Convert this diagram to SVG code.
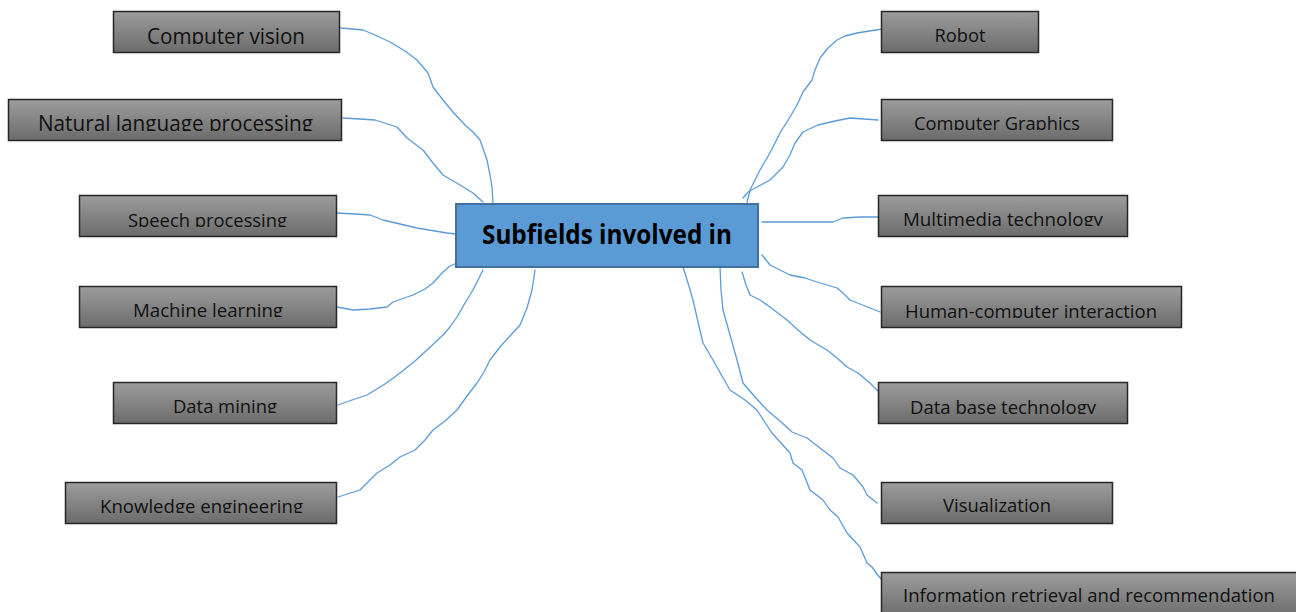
<svg xmlns="http://www.w3.org/2000/svg" width="1296" height="612" viewBox="0 0 1296 612">
<style>
.box{fill:url(#g);stroke:#262626;stroke-width:1.5}
.lbl{font-family:"Open Sans","Liberation Sans",sans-serif;font-size:19px;fill:#111;text-anchor:middle}
.big{font-size:21px}
.hub{fill:#5b9bd5;stroke:#41719c;stroke-width:2}
.hubt{font-family:"Open Sans","Liberation Sans",sans-serif;font-size:26px;font-weight:bold;fill:#000;text-anchor:middle}
.c{fill:none;stroke:#5b9bd5;stroke-width:1.3;stroke-linejoin:round;stroke-linecap:round}
</style>
<defs>
<linearGradient id="g" x1="0" y1="0" x2="0" y2="1">
<stop offset="0" stop-color="#9d9d9d"/>
<stop offset="1" stop-color="#6b6b6b"/>
</linearGradient>
<clipPath id="k1"><rect x="0" y="0" width="1296" height="44"/></clipPath>
<clipPath id="k2"><rect x="0" y="0" width="1296" height="131"/></clipPath>
<clipPath id="k3"><rect x="0" y="0" width="1296" height="227"/></clipPath>
<clipPath id="k4"><rect x="0" y="0" width="1296" height="317"/></clipPath>
<clipPath id="k5"><rect x="0" y="0" width="1296" height="413"/></clipPath>
<clipPath id="k6"><rect x="0" y="0" width="1296" height="513"/></clipPath>
<clipPath id="k8"><rect x="0" y="0" width="1296" height="130"/></clipPath>
<clipPath id="k9"><rect x="0" y="0" width="1296" height="226"/></clipPath>
<clipPath id="k10"><rect x="0" y="0" width="1296" height="318"/></clipPath>
<clipPath id="k11"><rect x="0" y="0" width="1296" height="414"/></clipPath>
</defs>
<rect width="1296" height="612" fill="#fff"/>

<g id="connectors">
<polyline class="c" points="341,28 363,30 375,35 390,42 405,51 417,60 428,73 433,87 443,100 453,112 465,125 473,132 480,140 487,160 490,175 492,187 493,203"/>
<polyline class="c" points="343,118 360,119 375,120 397,127 407,138 423,150 433,163 443,175 460,185 473,193 483,202"/>
<polyline class="c" points="337,213 355,214 370,215 383,220 400,224 417,228 447,233 456,234"/>
<polyline class="c" points="337,307 353,310 370,309 387,307 393,302 413,295 425,289 433,283 443,272 450,266 457,263"/>
<polyline class="c" points="338,405 352,400 367,395 385,384 400,373 415,361 427,350 443,335 450,327 457,317 465,303 473,290 478,280 483,270"/>
<polyline class="c" points="338,497 360,490 377,473 390,465 400,457 415,450 425,440 433,430 445,421 457,410 467,396 477,383 484,372 490,360 500,347 510,336 520,325 527,308 532,290 535,270"/>
<polyline class="c" points="882,29 857,33 845,36 837,40 828,48 820,58 815,70 812,80 803,92 797,105 790,117 780,133 773,147 767,158 760,170 755,180 750,190 747,203"/>
<polyline class="c" points="878,120 850,118 835,121 818,125 803,132 795,143 790,155 783,167 770,180 757,187 748,192 743,198"/>
<polyline class="c" points="762,222 800,222 833,222 843,218 860,217 878,217"/>
<polyline class="c" points="762,255 770,265 780,270 790,275 805,278 817,282 837,288 843,293 850,300 860,304 870,308 880,312"/>
<polyline class="c" points="742,272 746,285 750,295 760,300 770,307 787,320 798,330 810,340 827,350 837,358 847,367 858,373 870,383 875,388 880,393"/>
<polyline class="c" points="720,267 721,290 723,310 730,335 737,360 743,383 755,397 767,410 780,421 792,432 807,438 820,448 833,458 840,468 853,475 863,487 867,495 877,503"/>
<polyline class="c" points="683,267 688,283 693,300 698,322 703,343 713,360 722,376 730,390 745,400 757,410 764,421 772,433 781,443 790,453 793,463 802,470 810,490 823,500 830,510 838,517 847,533 860,547 867,563 872,567 877,574 882,580"/>
</g>

<g id="hub">
<rect class="hub" x="456" y="204" width="302" height="63"/>
<text class="hubt" x="607" y="244" textLength="250" lengthAdjust="spacingAndGlyphs">Subfields involved in</text>
</g>

<g id="n-computer-vision">
<rect class="box" x="113.5" y="11.5" width="226" height="41"/>
<text class="lbl big" x="226" y="43.5" textLength="158" lengthAdjust="spacingAndGlyphs" clip-path="url(#k1)">Computer vision</text>
</g>
<g id="n-nlp">
<rect class="box" x="8.5" y="99.5" width="333" height="41"/>
<text class="lbl big" x="175.5" y="130.5" textLength="275" lengthAdjust="spacingAndGlyphs" clip-path="url(#k2)">Natural language processing</text>
</g>
<g id="n-speech">
<rect class="box" x="79.5" y="195.5" width="257" height="41"/>
<text class="lbl" x="207.5" y="226.5" textLength="159" lengthAdjust="spacingAndGlyphs" clip-path="url(#k3)">Speech processing</text>
</g>
<g id="n-ml">
<rect class="box" x="79.5" y="286.5" width="257" height="41"/>
<text class="lbl" x="208" y="316.5" textLength="150" lengthAdjust="spacingAndGlyphs" clip-path="url(#k4)">Machine learning</text>
</g>
<g id="n-dm">
<rect class="box" x="113.5" y="382.5" width="223" height="41"/>
<text class="lbl" x="225" y="412.5" textLength="104" lengthAdjust="spacingAndGlyphs" clip-path="url(#k5)">Data mining</text>
</g>
<g id="n-ke">
<rect class="box" x="65.5" y="482.5" width="271" height="41"/>
<text class="lbl" x="201.5" y="512.5" textLength="203" lengthAdjust="spacingAndGlyphs" clip-path="url(#k6)">Knowledge engineering</text>
</g>

<g id="n-robot">
<rect class="box" x="881.5" y="11.5" width="157" height="41"/>
<text class="lbl" x="960" y="41.5" textLength="51" lengthAdjust="spacingAndGlyphs">Robot</text>
</g>
<g id="n-cg">
<rect class="box" x="881.5" y="99.5" width="231" height="41"/>
<text class="lbl" x="997" y="129.5" textLength="166" lengthAdjust="spacingAndGlyphs" clip-path="url(#k8)">Computer Graphics</text>
</g>
<g id="n-mm">
<rect class="box" x="878.5" y="195.5" width="249" height="41"/>
<text class="lbl" x="1003" y="225.5" textLength="200" lengthAdjust="spacingAndGlyphs" clip-path="url(#k9)">Multimedia technology</text>
</g>
<g id="n-hci">
<rect class="box" x="881.5" y="286.5" width="300" height="41"/>
<text class="lbl" x="1031" y="317.5" textLength="252" lengthAdjust="spacingAndGlyphs" clip-path="url(#k10)">Human-computer interaction</text>
</g>
<g id="n-db">
<rect class="box" x="878.5" y="382.5" width="249" height="41"/>
<text class="lbl" x="1003" y="413.5" textLength="186" lengthAdjust="spacingAndGlyphs" clip-path="url(#k11)">Data base technology</text>
</g>
<g id="n-vis">
<rect class="box" x="881.5" y="482.5" width="231" height="41"/>
<text class="lbl" x="997" y="512" textLength="108" lengthAdjust="spacingAndGlyphs">Visualization</text>
</g>
<g id="n-ir">
<rect class="box" x="881.5" y="572.5" width="420" height="45"/>
<text class="lbl" x="1089" y="602" textLength="372" lengthAdjust="spacingAndGlyphs">Information retrieval and recommendation</text>
</g>
</svg>
